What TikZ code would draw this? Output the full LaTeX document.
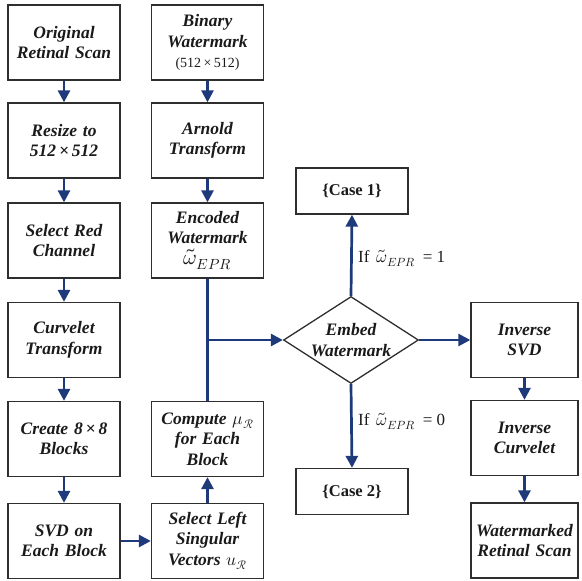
\documentclass[tikz,border=0pt]{standalone}
\usepackage{fontspec}
\usepackage{unicode-math}
\setmainfont{Liberation Serif}
\setmathfont{Latin Modern Math}
\usetikzlibrary{arrows.meta,shapes.geometric}

\definecolor{flow}{HTML}{1F3A7A}
\definecolor{edge}{HTML}{2E2E2E}
\definecolor{ink}{HTML}{1A1A1A}

\tikzset{
  stage/.style={draw=edge, line width=1.3pt, minimum width=112pt, minimum height=75pt,
    inner sep=0pt, text width=110pt, align=center, text=ink,
    font=\fontsize{17.5}{20.5}\selectfont\bfseries\itshape},
  narrow/.style={stage, minimum width=107pt, text width=105pt},
  casebox/.style={draw=edge, line width=1.3pt, minimum width=112pt, minimum height=46pt,
    inner sep=0pt, align=center, text=ink, font=\fontsize{16.5}{19}\selectfont\bfseries},
  decision/.style={draw=edge, line width=1.3pt, shape=diamond, minimum width=135pt,
    minimum height=87pt, inner sep=0pt},
  arr/.style={draw=flow, line width=2.7pt, -{Triangle[width=12pt,length=12pt]}},
  link/.style={draw=flow, line width=2.7pt},
  cond/.style={anchor=west, text=ink, inner sep=0pt, font=\fontsize{17}{20}\selectfont},
  dims/.style={font=\fontsize{14}{17}\selectfont\upshape\mdseries}
}

\begin{document}
\begin{tikzpicture}[x=1pt,y=1pt]
\useasboundingbox (0,0) rectangle (582,-581);

% host image pipeline
\node[stage] (orig) at (64,-42.5) {Original\\Retinal Scan};
\node[stage] (resz) at (64,-140.5) {Resize to\\512\,×\,512};
\node[stage] (red)  at (64,-240.5) {Select Red\\Channel};
\node[stage] (curv) at (64,-340) {Curvelet\\Transform};
\node[stage] (blk)  at (64,-439) {Create 8\,×\,8\\Blocks};
\node[stage] (svd)  at (64,-541) {SVD on\\Each Block};

% watermark pipeline
\node[stage] (bin)  at (207.5,-42.5) {Binary\\Watermark\\{\fontsize{14}{18}\selectfont\upshape\mdseries(512\,×\,512)}};
\node[stage] (arn)  at (207.5,-140.5) {Arnold\\Transform};
\node[stage] (enc)  at (207.5,-240.5) {Encoded\\Watermark\\{\fontsize{21}{21}\selectfont$\widetilde{\omega}_{EPR}$}};
\node[stage] (mu)   at (207.5,-439) {Compute $\mu_{\mathcal{R}}$\\for Each\\Block};
\node[stage] (left) at (207.5,-541) {Select Left\\Singular\\Vectors $\symscr{u}_{\mathcal{R}}$};

% embedding decision
\node[decision] (emb) at (351,-340) {};
\node[font=\fontsize{17.5}{20.5}\selectfont\bfseries\itshape, text=ink, align=center] at (emb.center) {Embed\\Watermark};
\node[casebox] (c1) at (352,-191) {\{Case 1\}};
\node[casebox] (c2) at (352,-491.5) {\{Case 2\}};

% reconstruction
\node[narrow] (isvd) at (524.5,-340) {Inverse\\SVD};
\node[narrow] (icur) at (524.5,-438) {Inverse\\Curvelet};
\node[narrow] (wm)   at (524.5,-540.5) {Watermarked\\Retinal Scan};

\coordinate (j) at (207.5,-340);

% connectors
\draw[arr] (orig) -- (resz);
\draw[arr] (resz) -- (red);
\draw[arr] (red)  -- (curv);
\draw[arr] (curv) -- (blk);
\draw[arr] (blk)  -- (svd);
\draw[arr] (svd)  -- (left);
\draw[arr] (left) -- (mu);
\draw[arr] (bin)  -- (arn);
\draw[arr] (arn)  -- (enc);
\draw[link] (enc.south) -- (mu.north);
\draw[arr] (j) -- (emb.west);
\draw[arr] (emb.north) -- (c1.south);
\draw[arr] (emb.south) -- (c2.north);
\draw[arr] (emb.east) -- (isvd.west);
\draw[arr] (isvd) -- (icur);
\draw[arr] (icur) -- (wm);

% branch conditions
\node[cond] at (358,-258) {If \,$\widetilde{\omega}_{EPR}$ \,= 1};
\node[cond] at (358,-421) {If \,$\widetilde{\omega}_{EPR}$ \,= 0};
\end{tikzpicture}
\end{document}
